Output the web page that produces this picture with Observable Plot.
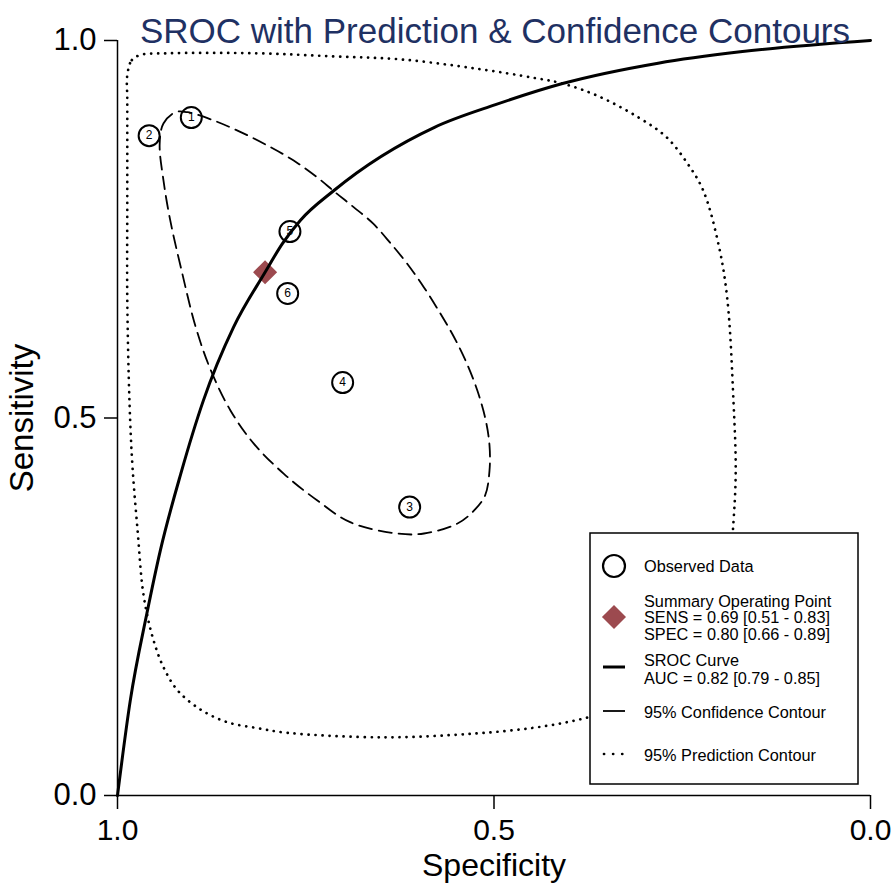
<!DOCTYPE html>
<html><head><meta charset="utf-8">
<script src="https://cdn.jsdelivr.net/npm/d3@7"></script>
<script src="https://cdn.jsdelivr.net/npm/@observablehq/plot@0.6"></script>
<style>
body{margin:0;background:#fff;font-family:"Liberation Sans",Arial,sans-serif;}
#wrap{position:relative;width:894px;height:888px;overflow:hidden;}
#legend{position:absolute;left:589px;top:532px;}
</style></head><body><div id="wrap"></div>
<script>
const titleText = "SROC with Prediction & Confidence Contours";
const xLabel = "Specificity";
const yLabel = "Sensitivity";
const xTicks = [1, 0.5, 0];
const yTicks = [0, 0.5, 1];

// observed studies
const studyIds   = [1, 2, 3, 4, 5, 6];
const studySpec  = [0.902, 0.958, 0.612, 0.701, 0.771, 0.774];
const studySens  = [0.898, 0.874, 0.382, 0.547, 0.747, 0.665];

// summary operating point
const summarySpec = [0.804];
const summarySens = [0.693];

// SROC curve
const srocSpec = [1.0, 0.983, 0.961, 0.943, 0.916, 0.886, 0.846, 0.804, 0.781, 0.757, 0.713, 0.579, 0.498, 0.409, 0.282, 0.173, 0.0];
const srocSens = [0.0, 0.126, 0.241, 0.325, 0.426, 0.523, 0.620, 0.693, 0.731, 0.762, 0.801, 0.885, 0.915, 0.943, 0.970, 0.985, 1.0];

// 95% confidence contour
const confSpec = [0.944, 0.939, 0.923, 0.907, 0.872, 0.837, 0.801, 0.766, 0.735, 0.711, 0.686, 0.660, 0.637, 0.615, 0.593, 0.571, 0.553, 0.536, 0.522, 0.511, 0.506, 0.506, 0.512, 0.529, 0.549, 0.593, 0.629, 0.691, 0.735, 0.779, 0.819, 0.850, 0.876, 0.896, 0.916, 0.930, 0.939];
const confSens = [0.863, 0.890, 0.905, 0.905, 0.894, 0.879, 0.861, 0.841, 0.819, 0.799, 0.779, 0.757, 0.731, 0.704, 0.673, 0.638, 0.607, 0.572, 0.536, 0.497, 0.464, 0.430, 0.397, 0.375, 0.360, 0.347, 0.347, 0.362, 0.391, 0.426, 0.466, 0.510, 0.563, 0.620, 0.700, 0.762, 0.815];

// 95% prediction contour
const predSpec = [0.987, 0.981, 0.969, 0.936, 0.814, 0.714, 0.624, 0.525, 0.444, 0.409, 0.363, 0.308, 0.271, 0.243, 0.222, 0.201, 0.190, 0.182, 0.179, 0.182, 0.189, 0.206, 0.239, 0.292, 0.381, 0.445, 0.527, 0.648, 0.774, 0.813, 0.854, 0.890, 0.920, 0.939, 0.952, 0.961, 0.967, 0.973, 0.980, 0.984, 0.987, 0.987, 0.987];
const predSens = [0.954, 0.974, 0.981, 0.983, 0.983, 0.979, 0.975, 0.963, 0.950, 0.943, 0.927, 0.898, 0.872, 0.837, 0.801, 0.726, 0.656, 0.523, 0.430, 0.362, 0.285, 0.219, 0.166, 0.128, 0.102, 0.090, 0.082, 0.077, 0.083, 0.089, 0.097, 0.114, 0.139, 0.170, 0.205, 0.241, 0.277, 0.347, 0.434, 0.519, 0.656, 0.788, 0.921];

// legend texts
const legendObserved = ["Observed Data"];
const legendSummary = ["Summary Operating Point", "SENS = 0.69 [0.51 - 0.83]", "SPEC = 0.80 [0.66 - 0.89]"];
const legendSroc = ["SROC Curve", "AUC = 0.82 [0.79 - 0.85]"];
const legendConf = ["95% Confidence Contour"];
const legendPred = ["95% Prediction Contour"];

const FONT = '"Liberation Sans", Arial, sans-serif';
const diamondColor = "#9c4a4f";

const studies = studyIds.map((id, i) => ({id, spec: studySpec[i], sens: studySens[i]}));
const summary = summarySpec.map((s, i) => ({spec: s, sens: summarySens[i]}));
const sroc = srocSpec.map((s, i) => ({spec: s, sens: srocSens[i]}));
const conf = confSpec.map((s, i) => ({spec: s, sens: confSens[i]}));
const pred = predSpec.map((s, i) => ({spec: s, sens: predSens[i]}));

const plot = Plot.plot({
  width: 894,
  height: 888,
  marginTop: 40,
  marginBottom: 93,
  marginLeft: 117,
  marginRight: 24,
  style: {fontFamily: FONT, fontSize: "30px", background: "white", color: "black"},
  x: {domain: [1, 0], axis: null},
  y: {domain: [0, 1], axis: null},
  marks: [
    Plot.line(pred, {x: "spec", y: "sens", curve: "catmull-rom-closed", stroke: "black", strokeWidth: 2.7, strokeDasharray: "0.1,6.9", strokeLinecap: "round"}),
    Plot.line(conf, {x: "spec", y: "sens", curve: "catmull-rom-closed", stroke: "black", strokeWidth: 1.8, strokeDasharray: "13,7"}),
    Plot.dot(summary, {x: "spec", y: "sens", symbol: "square", rotate: 45, r: 9.6, fill: diamondColor, stroke: "none"}),
    Plot.line(sroc, {x: "spec", y: "sens", curve: "monotone-x", stroke: "black", strokeWidth: 3}),
    Plot.dot(studies, {x: "spec", y: "sens", r: 10.5, stroke: "black", strokeWidth: 2, fill: "none"}),
    Plot.text(studies, {x: "spec", y: "sens", text: "id", fontSize: 12, fill: "black"}),
    Plot.ruleX([1], {y1: 0, y2: 1, stroke: "black", strokeWidth: 1.5}),
    Plot.ruleY([0], {x1: 1, x2: 0, stroke: "black", strokeWidth: 1.5}),
    Plot.axisX({ticks: xTicks, tickFormat: d3.format(".1f"), tickSize: 14, tickPadding: 9, label: null, fontSize: 30, strokeWidth: 1.5}),
    Plot.axisY({ticks: yTicks, tickFormat: d3.format(".1f"), tickSize: 13, tickPadding: 8, label: null, fontSize: 31, strokeWidth: 1.5}),
    Plot.text([xLabel], {frameAnchor: "bottom", lineAnchor: "middle", textAnchor: "middle", dy: 70, fontSize: 32, fill: "black"}),
    Plot.text([yLabel], {frameAnchor: "left", lineAnchor: "middle", textAnchor: "middle", dx: -95, rotate: -90, fontSize: 33, fill: "black"}),
    Plot.text([titleText], {frameAnchor: "top", dy: -22, dx: 1, fontSize: 35, fill: "#1f3163"})
  ]
});

const wrap = document.getElementById("wrap");
wrap.appendChild(plot);

// Legend (overlay box with white background, as in reference)
const W = 269, H = 252;
const lg = d3.create("svg").attr("id", "legend").attr("width", W + 2).attr("height", H + 2)
  .style("font-family", FONT);
const g = lg.append("g").attr("transform", "translate(1,1)");
g.append("rect").attr("width", W - 1).attr("height", H - 1).attr("fill", "white").attr("stroke", "black").attr("stroke-width", 1.5);
const tx = 54, fs = 16.3;
function lines(arr, y0, step) {
  arr.forEach((t, i) => g.append("text").attr("x", tx).attr("y", y0 + i * step).attr("dy", "0.35em")
    .attr("font-size", fs).attr("fill", "black").text(t));
}
g.append("circle").attr("cx", 24).attr("cy", 33).attr("r", 11).attr("fill", "none").attr("stroke", "black").attr("stroke-width", 2.2);
lines(legendObserved, 33, 0);
g.append("path").attr("d", d3.symbol(d3.symbolSquare, Math.PI * 9.6 * 9.6)()).attr("transform", "translate(24,84) rotate(45)").attr("fill", diamondColor);
lines(legendSummary, 68, 16.5);
g.append("line").attr("x1", 13).attr("x2", 35).attr("y1", 134).attr("y2", 134).attr("stroke", "black").attr("stroke-width", 3);
lines(legendSroc, 127.5, 17.3);
g.append("line").attr("x1", 13).attr("x2", 35).attr("y1", 178).attr("y2", 178).attr("stroke", "black").attr("stroke-width", 1.8);
lines(legendConf, 179, 0);
g.append("line").attr("x1", 14).attr("x2", 34).attr("y1", 221).attr("y2", 221).attr("stroke", "black").attr("stroke-width", 2.7).attr("stroke-dasharray", "0.1,9").attr("stroke-linecap", "round");
lines(legendPred, 222, 0);
wrap.appendChild(lg.node());
</script></body></html>
